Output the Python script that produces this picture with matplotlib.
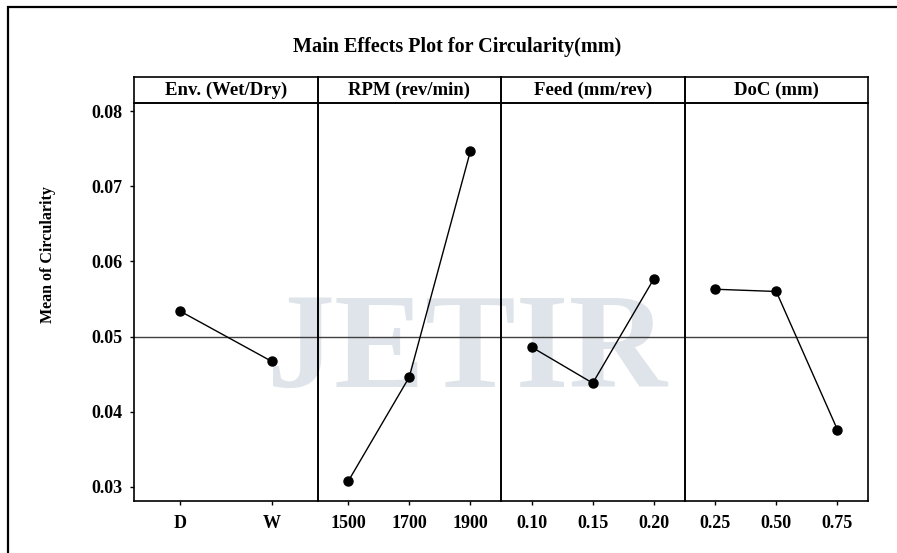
import numpy as np
import matplotlib
matplotlib.use("Agg")
import matplotlib.pyplot as plt
from matplotlib.patches import Rectangle

# ===============================
# Data
# ===============================
factors = ["Env. (Wet/Dry)", "RPM (rev/min)", "Feed (mm/rev)", "DoC (mm)"]
env_levels = ["D", "W"]
rpm_levels = ["1500", "1700", "1900"]
feed_levels = ["0.10", "0.15", "0.20"]
doc_levels = ["0.25", "0.50", "0.75"]

env_means = [0.0534, 0.0467]
rpm_means = [0.0307, 0.0446, 0.0747]
feed_means = [0.0486, 0.0438, 0.0577]
doc_means = [0.0563, 0.0560, 0.0376]
grand_mean = 0.05

y_ticks = [0.03, 0.04, 0.05, 0.06, 0.07, 0.08]

levels = [env_levels, rpm_levels, feed_levels, doc_levels]
means = [env_means, rpm_means, feed_means, doc_means]

plt.rcParams["font.family"] = ["Liberation Serif", "DejaVu Serif"]
plt.rcParams["font.weight"] = "bold"

W, H = 897, 553
fig = plt.figure(figsize=(W / 100, H / 100), dpi=100)


def fx(px):
    return px / W


def fy(py):
    return 1 - py / H


# watermark in the background
fig.text(fx(467), fy(340), "JETIR", fontsize=98, color="#dfe4ea",
         ha="center", va="center_baseline", fontweight="bold", zorder=-5)

# outer frame (left and top edges visible)
fig.patches.append(Rectangle((fx(8), fy(560)), fx(900), fy(7) - fy(560),
                             transform=fig.transFigure, fill=False,
                             edgecolor="black", lw=1.6))

fig.text(fx(457), fy(47), "Main Effects Plot for Circularity(mm)",
         fontsize=14.5, fontweight="bold", ha="center", va="center")

fig.text(fx(48), fy(255), "Mean of Circularity", rotation=90,
         fontsize=11.5, fontweight="bold", ha="center", va="center")

left, right = 134, 868
top, strip_top, bottom = 103, 77, 501
pw = (right - left) / len(factors)

for i, (name, lv, mv) in enumerate(zip(factors, levels, means)):
    x0 = left + i * pw
    ax = fig.add_axes([fx(x0), fy(bottom), pw / W, (bottom - top) / H])
    ax.set_facecolor("none")
    x = np.arange(1, len(lv) + 1)
    ax.axhline(grand_mean, color="#404040", lw=1.0, zorder=1)
    ax.plot(x, mv, color="black", lw=1.0, marker="o", markersize=6.5, zorder=3)
    ax.set_xlim(0.5, len(lv) + 0.5)
    ax.set_ylim(0.0281, 0.0811)
    ax.set_xticks(x)
    ax.set_xticklabels(lv)
    ax.set_yticks(y_ticks)
    ax.tick_params(axis="x", length=3, width=1, pad=7, labelsize=13)
    if i == 0:
        ax.set_yticklabels([f"{v:.2f}" for v in y_ticks])
        ax.tick_params(axis="y", length=3, width=1, pad=5, labelsize=13)
    else:
        ax.tick_params(axis="y", length=0, labelleft=False)
    for s in ax.spines.values():
        s.set_linewidth(1.2)
    for lab in ax.get_xticklabels() + ax.get_yticklabels():
        lab.set_fontweight("bold")

    # strip header
    sx = fig.add_axes([fx(x0), fy(top), pw / W, (top - strip_top) / H])
    sx.set_facecolor("none")
    sx.set_xticks([])
    sx.set_yticks([])
    for s in sx.spines.values():
        s.set_linewidth(1.2)
    sx.text(0.5, 0.5, name, transform=sx.transAxes, ha="center", va="center",
            fontsize=13.5, fontweight="bold")

fig.savefig("out.png", dpi=100)
